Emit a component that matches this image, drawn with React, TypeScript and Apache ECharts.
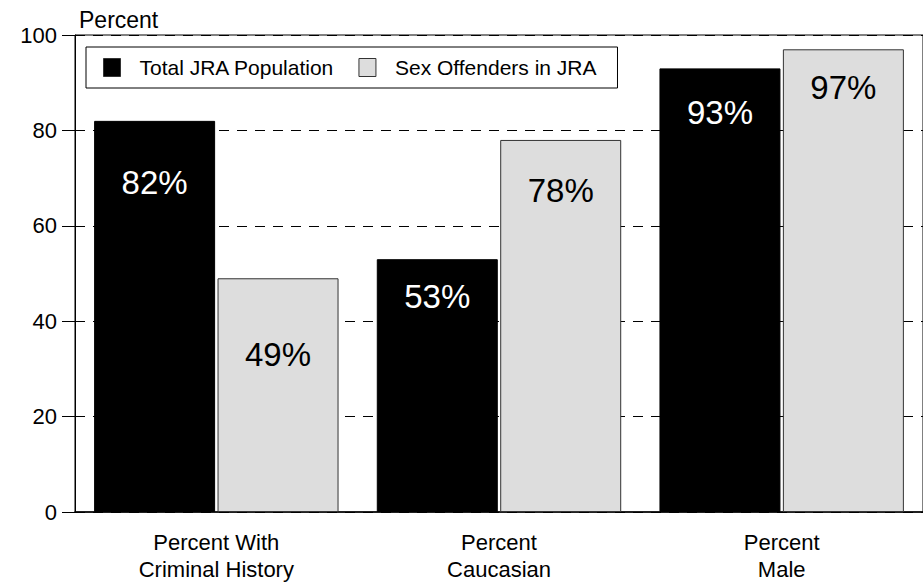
import React, { useEffect, useRef } from "react";
import * as echarts from "echarts";

// Category labels (two lines each) and the two series, in percent.
const categories = [
  "Percent With\nCriminal History",
  "Percent\nCaucasian",
  "Percent\nMale",
];
const totalJraPopulation = [82, 53, 93];
const sexOffendersInJra = [49, 78, 97];
const seriesNames = ["Total JRA Population", "Sex Offenders in JRA"];

// Value axis range
const yMin = 0;
const yMax = 100;
const yStep = 20;

// How far below each bar top its value label sits (px)
const totalLabelDrop = [45, 21, 28];
const offenderLabelDrop = [60, 34, 22];

const FONT = "'Liberation Sans', Arial, Helvetica, sans-serif";

export default function App() {
  const ref = useRef<HTMLDivElement>(null);

  useEffect(() => {
    if (!ref.current) return;
    const chart = echarts.init(ref.current, undefined, { renderer: "svg" });

    const makeData = (values: number[], drops: number[]) =>
      values.map((v, i) => ({
        value: v,
        label: { distance: drops[i] },
      }));

    chart.setOption({
      animation: false,
      backgroundColor: "#ffffff",
      textStyle: { fontFamily: FONT },
      title: {
        text: "Percent",
        left: 79,
        top: 8,
        padding: 0,
        textStyle: {
          fontFamily: FONT,
          fontSize: 23,
          fontWeight: "normal",
          color: "#000",
        },
      },
      legend: {
        left: 86,
        top: 47,
        orient: "horizontal",
        padding: [10, 21, 10, 17],
        borderColor: "#000",
        borderWidth: 1,
        itemWidth: 17,
        itemHeight: 18,
        itemGap: 24,
        icon: "rect",
        textStyle: {
          fontFamily: FONT,
          fontSize: 21,
          color: "#000",
          padding: [0, 0, 0, 14],
        },
        data: [
          {
            name: seriesNames[0],
            itemStyle: { color: "#000", borderColor: "#333", borderWidth: 1 },
          },
          {
            name: seriesNames[1],
            itemStyle: { color: "#dddddd", borderColor: "#333", borderWidth: 1 },
          },
        ],
      },
      grid: {
        left: 75,
        right: -8,
        top: 35,
        bottom: 68,
        show: true,
        borderColor: "#000",
        borderWidth: 1,
        backgroundColor: "transparent",
      },
      xAxis: {
        type: "category",
        data: categories,
        axisLine: { show: true, lineStyle: { color: "#000", width: 1.5 } },
        axisTick: { show: false },
        axisLabel: {
          color: "#000",
          fontFamily: FONT,
          fontSize: 22,
          lineHeight: 27,
          margin: 17,
        },
      },
      yAxis: {
        type: "value",
        min: yMin,
        max: yMax,
        interval: yStep,
        axisLine: { show: true, lineStyle: { color: "#000", width: 1 } },
        axisTick: {
          show: true,
          inside: false,
          length: 13,
          lineStyle: { color: "#000", width: 1 },
        },
        axisLabel: {
          color: "#000",
          fontFamily: FONT,
          fontSize: 22,
          margin: 18,
        },
        splitLine: {
          show: true,
          lineStyle: { color: "#000", width: 1, type: [10, 8] },
        },
      },
      series: [
        {
          name: seriesNames[0],
          type: "bar",
          data: makeData(totalJraPopulation, totalLabelDrop),
          barWidth: 121,
          barGap: "2%",
          itemStyle: { color: "#000", borderColor: "#000", borderWidth: 1 },
          label: {
            show: true,
            position: "insideTop",
            formatter: "{c}%",
            color: "#fff",
            fontFamily: FONT,
            fontSize: 33,
          },
        },
        {
          name: seriesNames[1],
          type: "bar",
          data: makeData(sexOffendersInJra, offenderLabelDrop),
          barWidth: 121,
          itemStyle: { color: "#dddddd", borderColor: "#333", borderWidth: 1 },
          label: {
            show: true,
            position: "insideTop",
            formatter: "{c}%",
            color: "#000",
            fontFamily: FONT,
            fontSize: 33,
          },
        },
      ],
    });

    return () => chart.dispose();
  }, []);

  return (
    <div
      ref={ref}
      style={{
        position: "fixed",
        left: 0,
        top: 0,
        width: 923,
        height: 583,
        background: "#fff",
      }}
    />
  );
}
